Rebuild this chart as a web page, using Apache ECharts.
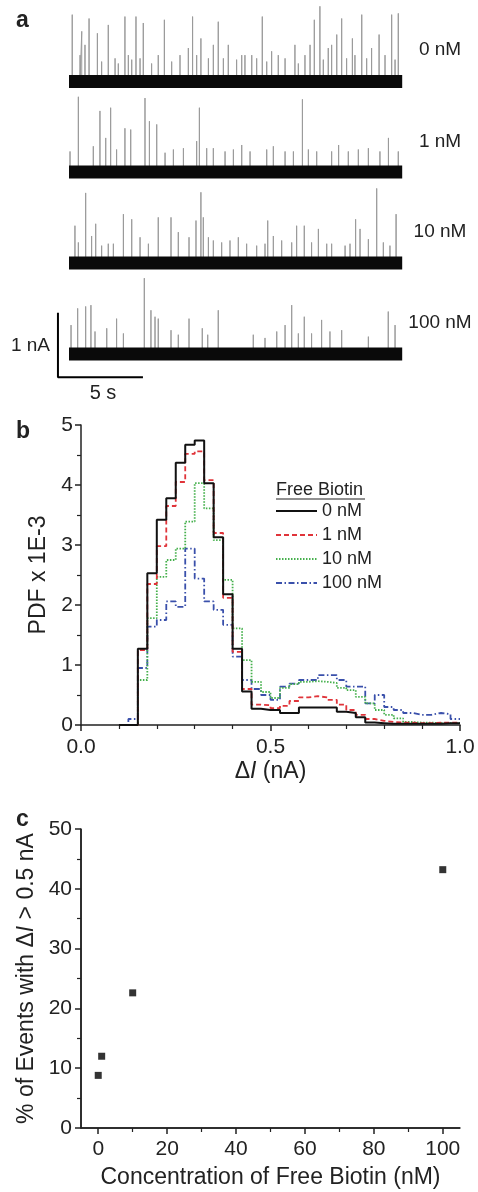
<!DOCTYPE html>
<html><head><meta charset="utf-8">
<script src="https://cdn.jsdelivr.net/npm/echarts@6/dist/echarts.min.js"></script>
<style>html,body{margin:0;padding:0;background:#fff}#c{width:478px;height:1192px}</style>
</head><body><div id="c"></div>
<script>
// ---------- DATA ----------
// Panel a: current traces, spikes as [time (s), amplitude above baseline (nA)]
const traceLabels = ['0 nM', '1 nM', '10 nM', '100 nM'];
const traceDuration = 19.6; // s
const trace0Spikes = [[0.19,1.04],[0.65,0.41],[0.75,0.78],[0.94,0.57],[1.18,0.98],[1.67,0.75],[1.92,0.31],[2.31,0.88],[2.71,0.36],[2.90,0.28],[3.29,1.01],[3.49,0.41],[3.69,0.34],[3.94,1.01],[4.18,0.36],[4.37,0.91],[4.86,0.28],[5.25,0.41],[5.61,0.96],[6.04,0.31],[6.53,0.41],[7.02,0.52],[7.27,1.01],[7.51,0.41],[7.76,0.67],[8.20,0.36],[8.49,0.57],[8.78,0.93],[9.08,0.36],[9.37,0.57],[9.86,0.34],[10.16,0.41],[10.35,0.41],[10.75,0.41],[11.04,0.36],[11.37,1.01],[11.63,0.31],[11.92,0.47],[12.31,0.41],[12.71,0.36],[13.29,0.57],[13.49,0.28],[13.88,0.41],[14.18,0.57],[14.43,0.96],[14.76,1.17],[14.96,0.34],[15.25,0.52],[15.45,0.57],[15.75,0.73],[16.04,0.98],[16.33,0.36],[16.67,0.67],[16.82,0.41],[17.22,1.04],[17.51,0.36],[17.80,0.52],[18.24,0.73],[18.59,0.41],[18.98,1.04],[19.18,0.34],[19.37,1.06]];
const trace1Spikes = [[0.06,0.32],[0.55,1.17],[1.43,0.40],[1.82,0.95],[2.16,0.53],[2.45,1.00],[2.80,0.35],[3.29,0.68],[3.63,0.66],[4.47,1.15],[4.73,0.79],[5.16,0.74],[5.65,0.30],[6.14,0.35],[6.73,0.37],[7.51,0.48],[7.67,1.00],[8.10,0.37],[8.49,0.37],[9.18,0.32],[9.67,0.35],[10.16,0.42],[10.65,0.32],[11.63,0.35],[12.02,0.40],[12.71,0.32],[13.20,0.32],[13.73,1.13],[14.08,0.35],[14.57,0.32],[15.45,0.32],[15.86,0.42],[16.43,0.32],[17.02,0.35],[17.61,0.37],[18.29,0.32],[18.79,0.53],[19.37,0.32]];
const trace2Spikes = [[0.35,0.58],[0.55,0.32],[0.98,1.09],[1.33,0.42],[1.57,0.61],[1.92,0.27],[2.31,0.30],[2.61,0.30],[3.20,0.76],[3.69,0.68],[4.18,0.40],[4.67,0.30],[5.25,0.71],[6.00,0.71],[6.43,0.48],[7.06,0.40],[7.47,0.66],[7.76,1.10],[7.90,0.71],[8.20,0.40],[8.49,0.35],[8.98,0.32],[9.47,0.35],[9.96,0.40],[10.45,0.30],[11.04,0.27],[11.53,0.30],[11.69,0.66],[12.02,0.42],[12.51,0.35],[13.10,0.32],[13.39,0.58],[13.84,0.58],[14.27,0.32],[14.67,0.53],[15.16,0.30],[15.45,0.30],[16.24,0.27],[16.53,0.30],[16.86,0.68],[17.12,0.53],[17.61,0.37],[18.10,1.16],[18.49,0.32],[18.88,0.27],[19.24,0.76]];
const trace3Spikes = [[0.12,0.45],[0.51,0.71],[0.98,0.74],[1.29,0.76],[1.53,0.35],[2.22,0.40],[2.80,0.55],[3.20,0.32],[4.43,1.18],[4.82,0.68],[5.06,0.58],[5.25,0.55],[6.00,0.37],[6.43,0.30],[7.06,0.55],[7.84,0.40],[8.16,0.30],[8.78,0.68],[10.84,0.30],[11.53,0.25],[12.22,0.35],[12.71,0.45],[13.10,0.76],[13.49,0.32],[13.84,0.58],[14.27,0.32],[14.86,0.53],[15.35,0.35],[16.04,0.37],[17.61,0.27],[18.78,0.66],[19.18,0.45]];
const scaleBarTime = 5;      // s
const scaleBarCurrent = 1;   // nA
const scaleBarOrigin = [-0.65, -0.36]; // s, nA (corner of the scale bar)

// Panel b: histogram (bin left edges, nA) and PDF x 1E-3 values
const binStart = [0.100,0.125,0.150,0.175,0.200,0.225,0.250,0.275,0.300,0.325,0.350,0.375,0.400,0.425,0.450,0.475,0.500,0.525,0.550,0.575,0.600,0.625,0.650,0.675,0.700,0.725,0.750,0.775,0.800,0.825,0.850,0.875,0.900,0.925,0.950,0.975];
const binEnd = 1.0;
const pdf0nM   = [0,0,1.27,2.53,3.42,3.78,4.37,4.67,4.74,4.03,3.13,2.18,1.27,0.56,0.27,0.25,0.25,0.20,0.20,0.29,0.29,0.29,0.29,0.22,0.20,0.13,0.04,0.03,0.02,0.02,0.02,0.02,0.02,0.02,0.03,0.03];
const pdf1nM   = [0,0,1.25,2.35,2.98,3.65,4.05,4.52,4.56,4.08,3.20,2.12,1.22,0.60,0.34,0.33,0.28,0.32,0.40,0.46,0.48,0.46,0.42,0.34,0.25,0.17,0.10,0.07,0.05,0.04,0.04,0.03,0.03,0.04,0.04,0.04];
const pdf10nM  = [0,0,0.75,1.78,2.47,2.75,2.94,3.39,4.03,3.61,3.08,2.42,1.61,1.08,0.72,0.55,0.45,0.62,0.68,0.72,0.73,0.72,0.70,0.62,0.58,0.47,0.36,0.25,0.17,0.11,0.05,0.04,0.04,0.03,0.03,0.03];
const pdf100nM = [0,0.10,0.95,1.64,1.75,2.06,1.97,2.94,2.44,2.06,1.92,1.67,1.14,0.75,0.60,0.50,0.42,0.64,0.69,0.75,0.75,0.83,0.83,0.75,0.64,0.64,0.36,0.50,0.30,0.25,0.20,0.17,0.17,0.20,0.18,0.10];
const histNames = ['0 nM', '1 nM', '10 nM', '100 nM'];

// Panel c: % of events with dI > 0.5 nA vs free biotin concentration
const concentration = [0, 1, 10, 100];
const pctLarge = [8.8, 12.0, 22.6, 43.2];
const concTicks = [0, 20, 40, 60, 80, 100];
const concMinorTicks = [10, 30, 50, 70, 90];
const concRange = [-5, 105];
const pctRange = [0, 50];

// ---------- CHART ----------
const FONT = '"Liberation Sans", Arial, Helvetica, sans-serif';
const INK = '#222';
const chart = echarts.init(document.getElementById('c'), null, {renderer: 'canvas'});

const traceSpikes = [trace0Spikes, trace1Spikes, trace2Spikes, trace3Spikes];
const baselines = [81.5, 172, 263, 354];
const pxPerNA = 64.3, pxPerS = 17, traceLeft = 69;
const yMinA = -0.4, yMaxA = 1.25;

const grids = [], xAxes = [], yAxes = [], series = [];
baselines.forEach((b, i) => {
  // the last trace's axis also spans the scale bar on its left
  const xMin = i === 3 ? scaleBarOrigin[0] : 0;
  grids.push({left: traceLeft + xMin * pxPerS, width: (traceDuration - xMin) * pxPerS,
    top: b - yMaxA * pxPerNA, height: (yMaxA - yMinA) * pxPerNA});
  xAxes.push({gridIndex: i, type: 'value', min: xMin, max: traceDuration, show: false});
  yAxes.push({gridIndex: i, type: 'value', min: yMinA, max: yMaxA, show: false});
  const sp = [];
  traceSpikes[i].forEach(([t, a]) => { sp.push([t, 0], [t, a], [t, 0]); });
  series.push({type: 'line', xAxisIndex: i, yAxisIndex: i, data: sp, symbol: 'none', clip: false,
    lineStyle: {color: '#9a9a9a', width: 1}, silent: true, z: 2});
  series.push({type: 'line', xAxisIndex: i, yAxisIndex: i, data: [[0, 0], [traceDuration, 0]], symbol: 'none',
    lineStyle: {color: '#0a0a0a', width: 13, cap: 'butt'}, silent: true, z: 3});
});
// scale bar on trace 4
series.push({type: 'line', xAxisIndex: 3, yAxisIndex: 3, symbol: 'none', z: 4,
  data: [[scaleBarOrigin[0], scaleBarOrigin[1] + scaleBarCurrent], [scaleBarOrigin[0], scaleBarOrigin[1]], [scaleBarOrigin[0] + scaleBarTime, scaleBarOrigin[1]]],
  lineStyle: {color: '#000', width: 2}});

const axisLineStyle = {color: INK, width: 1.5};
const tickLabel = {color: INK, fontSize: 21, fontFamily: FONT};
const titleRich = {n: {fontSize: 23, fontFamily: FONT, color: INK}, i: {fontSize: 23, fontFamily: FONT, fontStyle: 'italic', color: INK}};

// Panel b grid (index 4)
grids.push({left: 81, top: 425, width: 379, height: 300});
xAxes.push({gridIndex: 4, type: 'value', min: 0, max: 1, interval: 0.5,
  axisLine: {show: true, onZero: false, lineStyle: axisLineStyle},
  axisTick: {show: true, length: 6, lineStyle: axisLineStyle},
  minorTick: {show: true, splitNumber: 5, length: 4, lineStyle: {color: INK, width: 1.2}},
  splitLine: {show: false},
  axisLabel: Object.assign({margin: 12, formatter: v => v.toFixed(1)}, tickLabel),
  name: '{n|Δ}{i|I}{n| (nA)}', nameLocation: 'middle', nameGap: 35,
  nameTextStyle: {rich: titleRich}
});
yAxes.push({gridIndex: 4, type: 'value', min: 0, max: 5, interval: 1,
  axisLine: {show: true, onZero: false, lineStyle: axisLineStyle},
  axisTick: {show: true, length: 6, lineStyle: axisLineStyle},
  minorTick: {show: true, splitNumber: 2, length: 4, lineStyle: {color: INK, width: 1.2}},
  splitLine: {show: false},
  axisLabel: Object.assign({margin: 8}, tickLabel),
  name: 'PDF x 1E-3', nameLocation: 'middle', nameGap: 22,
  nameTextStyle: {fontSize: 23, fontFamily: FONT, color: INK}
});
const histSets = [pdf0nM, pdf1nM, pdf10nM, pdf100nM];
const histStyles = [
  {color: '#111', width: 2, type: 'solid'},
  {color: '#e0343a', width: 1.8, type: [5, 3]},
  {color: '#45b04c', width: 1.8, type: [1.5, 1.5]},
  {color: '#3a50ab', width: 1.8, type: [6, 2.5, 1.5, 2.5]}
];
[3, 2, 1, 0].forEach(k => {
  const vals = histSets[k];
  const d = binStart.map((x, i) => [x, vals[i]]);
  d.push([binEnd, vals[vals.length - 1]]);
  series.push({type: 'line', name: histNames[k], xAxisIndex: 4, yAxisIndex: 4, step: 'end', symbol: 'none',
    data: d, lineStyle: histStyles[k], itemStyle: {color: histStyles[k].color}, z: 5 + (3 - k)});
});

// Panel c grid (index 5); x axes 5 (main) and 6 (minor ticks only)
grids.push({left: 81, top: 829, width: 379, height: 299});
xAxes.push({gridIndex: 5, type: 'value', min: concRange[0], max: concRange[1], position: 'bottom',
  axisLine: {show: true, onZero: false, lineStyle: axisLineStyle},
  axisTick: {show: true, length: 6, lineStyle: axisLineStyle, customValues: concTicks},
  splitLine: {show: false},
  axisLabel: Object.assign({margin: 11, customValues: concTicks}, tickLabel),
  name: 'Concentration of Free Biotin (nM)', nameLocation: 'middle', nameGap: 38,
  nameTextStyle: {fontSize: 23, fontFamily: FONT, color: INK}
});
xAxes.push({gridIndex: 5, type: 'value', min: concRange[0], max: concRange[1], position: 'bottom', offset: 0,
  axisLine: {show: false, onZero: false},
  axisTick: {show: true, length: 4, lineStyle: {color: INK, width: 1.2}, customValues: concMinorTicks},
  axisLabel: {show: false}, splitLine: {show: false}});
yAxes.push({gridIndex: 5, type: 'value', min: pctRange[0], max: pctRange[1], interval: 10,
  axisLine: {show: true, onZero: false, lineStyle: axisLineStyle},
  axisTick: {show: true, length: 6, lineStyle: axisLineStyle},
  minorTick: {show: true, splitNumber: 2, length: 4, lineStyle: {color: INK, width: 1.2}},
  splitLine: {show: false},
  axisLabel: Object.assign({margin: 9}, tickLabel),
  name: '{n|% of Events with Δ}{i|I}{n| > 0.5 nA}', nameLocation: 'middle', nameGap: 41,
  nameTextStyle: {rich: titleRich}
});
// L-shaped frame along the panel c axes (drawn at the axis extents)
series.push({type: 'line', xAxisIndex: 5, yAxisIndex: 5, symbol: 'none', silent: true, clip: false, z: 1,
  data: [[concRange[0], pctRange[1]], [concRange[0], pctRange[0]], [concRange[1], pctRange[0]]],
  lineStyle: {color: INK, width: 1.5}});
series.push({type: 'scatter', xAxisIndex: 5, yAxisIndex: 5, symbol: 'rect', symbolSize: 7,
  itemStyle: {color: '#000'}, data: concentration.map((c, i) => [c, pctLarge[i]])});

const txt = (x, y, s, opt) => Object.assign({type: 'text', x, y, style: Object.assign({text: s, fill: INK, font: '18px ' + FONT, textVerticalAlign: 'middle'}, opt || {})});
const graphics = [
  txt(16, 21, 'a', {font: 'bold 23px ' + FONT}),
  txt(16, 432, 'b', {font: 'bold 23px ' + FONT}),
  txt(16, 820, 'c', {font: 'bold 23px ' + FONT}),
  txt(50, 346, '1 nA', {textAlign: 'right', font: '19px ' + FONT}),
  txt(103, 393, '5 s', {textAlign: 'center', font: '20px ' + FONT}),
  txt(276, 490, 'Free Biotin', {font: '18px ' + FONT}),
  {type: 'line', shape: {x1: 276, y1: 499, x2: 365, y2: 499}, style: {stroke: INK, lineWidth: 1.2}}
];
const labelY = [50, 142, 232, 323];
traceLabels.forEach((l, i) => graphics.push(txt(440, labelY[i], l, {textAlign: 'center', font: '19px ' + FONT})));

chart.setOption({
  animation: false,
  backgroundColor: '#fff',
  grid: grids, xAxis: xAxes, yAxis: yAxes, series,
  legend: {data: histNames, orient: 'vertical', left: 275, top: 502, padding: 0, itemWidth: 41, itemHeight: 12, itemGap: 6,
    itemStyle: {opacity: 0},
    textStyle: {fontSize: 18, fontFamily: FONT, color: INK}},
  graphic: graphics
});
</script></body></html>
